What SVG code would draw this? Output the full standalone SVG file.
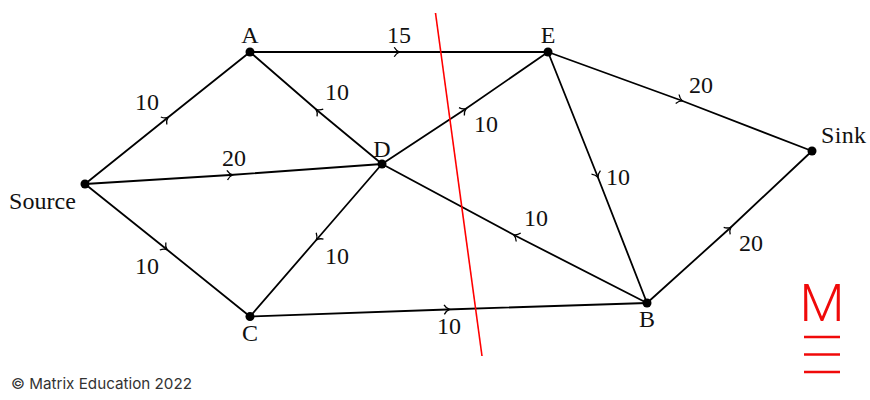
<svg xmlns="http://www.w3.org/2000/svg" width="870" height="400" viewBox="0 0 870 400">
<style>
.e{fill:none;stroke:#000;stroke-width:1.8;marker-mid:url(#chev)}
.t{font-family:"Liberation Serif","Times New Roman",serif;font-size:24px;fill:#111}
.m{text-anchor:middle}
.d{fill:#000}
.b{stroke:#f00a0a;stroke-width:2.6}
</style>
<defs>
<marker id="chev" markerUnits="userSpaceOnUse" markerWidth="12" markerHeight="12" refX="6" refY="6" orient="auto" overflow="visible">
<path d="M3.2,1.2Q5.2,4.8 8.6,6Q5.2,7.2 3.2,10.800" fill="none" stroke="#000" stroke-width="1.300"/>
</marker>
</defs>
<rect width="870" height="400" fill="#fff"/>
<g id="connectors">
<path class="e" d="M85,184L166,119L250,52"/>
<path class="e" d="M250,52L397,52L548,52"/>
<path class="e" d="M382,164L318,111L250,52"/>
<path class="e" d="M85,184L230,175L382,164"/>
<path class="e" d="M85,184L165,248L250,316.500"/>
<path class="e" d="M382,164L318,238L250,316.500"/>
<path class="e" d="M250,316.500L447,309.500L647,303"/>
<path class="e" d="M647,303L516,236L382,164"/>
<path class="e" d="M382,164L464,110L548,52"/>
<path class="e" d="M548,52L597,175L647,303"/>
<path class="e" d="M548,52L680,100L812,151"/>
<path class="e" d="M647,303L729,229L812,151"/>
<g class="t">
<text x="147" y="110" class="m">10</text>
<text x="399" y="43" class="m">15</text>
<text x="337" y="100" class="m">10</text>
<text x="234" y="166" class="m">20</text>
<text x="486" y="132" class="m">10</text>
<text x="701" y="93" class="m">20</text>
<text x="618" y="185" class="m">10</text>
<text x="536" y="226" class="m">10</text>
<text x="751" y="251" class="m">20</text>
<text x="147" y="274" class="m">10</text>
<text x="337" y="264" class="m">10</text>
<text x="449" y="334" class="m">10</text>
</g>
</g>
<g id="cut"><line x1="435.500" y1="13" x2="482" y2="356" stroke="#f00" stroke-width="1.600"/></g>
<g id="A"><circle class="d" cx="250" cy="52" r="4.500"/><text class="t m" x="250" y="43">A</text></g>
<g id="E"><circle class="d" cx="548" cy="52" r="4.500"/><text class="t m" x="548" y="43">E</text></g>
<g id="D"><circle class="d" cx="382" cy="164" r="4.500"/><text class="t m" x="382" y="157">D</text></g>
<g id="Source"><circle class="d" cx="85" cy="184" r="4.500"/><text class="t" x="9" y="209" textLength="67">Source</text></g>
<g id="C"><circle class="d" cx="250" cy="316.500" r="4.500"/><text class="t m" x="250" y="341">C</text></g>
<g id="B"><circle class="d" cx="647" cy="303" r="4.500"/><text class="t m" x="647" y="327">B</text></g>
<g id="Sink"><circle class="d" cx="812" cy="151" r="4.500"/><text class="t" x="821" y="143" textLength="45">Sink</text></g>
<g id="footer"><text x="11" y="389" font-family="Inter,'Liberation Sans',sans-serif" font-size="15" fill="#333" textLength="181" lengthAdjust="spacingAndGlyphs">© Matrix Education 2022</text></g>
<g id="logo">
<text x="799.500" y="321" font-family="Roboto,'Liberation Sans',sans-serif" font-weight="300" font-size="52" fill="#f00a0a" textLength="45" lengthAdjust="spacingAndGlyphs">M</text>
<line class="b" x1="804" y1="337" x2="840" y2="337"/>
<line class="b" x1="804" y1="354.500" x2="840" y2="354.500"/>
<line class="b" x1="804" y1="372" x2="840" y2="372"/>
</g>
</svg>
